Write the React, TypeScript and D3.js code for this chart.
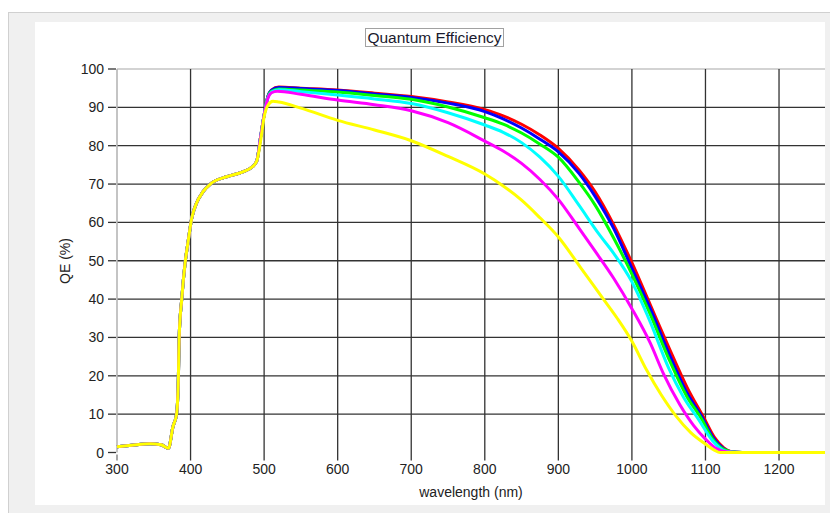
import React from 'react';
import * as d3 from 'd3';

type Pt = [number, number];

// shared onset below ~490 nm (all curves overlap there)
const onset: Pt[] = [
  [300, 1.5], [320, 1.9], [345, 2.3], [360, 2], [370, 1.1], [376, 6.7], [381, 10],
  [383.5, 20], [384.5, 30], [388, 40], [392.5, 49.3], [397, 55.4], [401.5, 61],
  [408, 65], [417, 68], [428, 70.2], [449, 71.9], [471, 73.2], [484, 74.5], [490, 76],
];

const redTail: Pt[] = [
  [495, 82], [500, 88], [505, 92.8], [510, 94.5], [520, 95.3], [550, 95], [600, 94.5],
  [650, 93.7], [700, 92.8], [750, 91.4], [800, 89.4], [825, 87.8], [850, 85.6], [875, 82.8],
  [900, 79.3], [928, 73.7], [950, 68], [975, 59.5], [1000, 49.5], [1025, 38.5], [1050, 27.5],
  [1075, 17], [1098, 9], [1112, 4], [1125, 1.2], [1135, 0.2], [1150, 0], [1262.5, 0],
];
const blueTail: Pt[] = [
  [495, 82], [500, 88], [505, 92.8], [510, 94.5], [520, 95.2], [550, 94.9], [600, 94.4],
  [650, 93.5], [700, 92.6], [750, 91.1], [800, 88.9], [825, 87], [850, 84.6], [875, 81.7],
  [900, 78.4], [928, 72.8], [950, 66.8], [975, 58.5], [1000, 48], [1025, 37.5], [1050, 26],
  [1075, 15.5], [1096, 9], [1110, 4], [1125, 1], [1135, 0.2], [1150, 0], [1262.5, 0],
];
const greenTail: Pt[] = [
  [495, 82], [500, 88], [505, 92.6], [510, 94.2], [520, 94.8], [550, 94.5], [600, 94],
  [650, 93.1], [700, 92.1], [750, 90.1], [800, 87.3], [825, 85.6], [850, 83.3], [875, 80.4],
  [900, 77], [928, 70.5], [950, 64.5], [975, 56], [1000, 46.5], [1025, 36], [1050, 24.5],
  [1075, 14.5], [1094, 9], [1110, 3.5], [1125, 0.8], [1135, 0.2], [1150, 0], [1262.5, 0],
];
const cyanTail: Pt[] = [
  [495, 82], [500, 88], [505, 92.5], [510, 94], [520, 94.6], [550, 94.1], [600, 93.2],
  [650, 92.2], [700, 91], [750, 88.6], [800, 85.4], [825, 83.5], [850, 80.8], [875, 77],
  [900, 72], [928, 64.5], [955, 57], [975, 52], [1000, 44.5], [1025, 34], [1050, 22],
  [1070, 14.5], [1091, 8.5], [1110, 3], [1125, 0.5], [1132, 0.2], [1150, 0], [1262.5, 0],
];
const magentaTail: Pt[] = [
  [495, 82], [500, 88], [505, 92.3], [510, 93.8], [518, 94.2], [550, 93.4], [600, 91.9],
  [650, 90.7], [700, 89.1], [750, 86], [800, 81.2], [825, 78.6], [850, 75.4], [875, 71.2],
  [900, 66], [928, 58.5], [950, 52.5], [975, 45.5], [1000, 37.5], [1025, 28.5], [1043, 20.5],
  [1065, 12.5], [1084, 7], [1100, 3.5], [1115, 1], [1128, 0.2], [1150, 0], [1262.5, 0],
];
const yellowTail: Pt[] = [
  [495, 81], [500, 87.5], [505, 90.5], [512, 91.6], [520, 91.4], [550, 89.8], [600, 86.6],
  [650, 84.1], [700, 81.3], [750, 77.2], [800, 72.6], [825, 69.5], [850, 65.8], [875, 61.2],
  [900, 56.2], [930, 48.3], [960, 40.3], [980, 35], [1000, 29], [1020, 21.5], [1040, 15],
  [1060, 9.5], [1080, 5.2], [1100, 2.2], [1112, 0.6], [1120, 0], [1262.5, 0],
];

const seriesColors = ['#ff0000', '#0000ff', '#00ff00', '#00ffff', '#ff00ff', '#ffff00'];
const seriesTails = [redTail, blueTail, greenTail, cyanTail, magentaTail, yellowTail];

const xTicks = [300, 400, 500, 600, 700, 800, 900, 1000, 1100, 1200];
const yTicks = [0, 10, 20, 30, 40, 50, 60, 70, 80, 90, 100];

const FONT = '"Liberation Sans", Arial, sans-serif';

export default function App() {
  const width = 830;
  const height = 513;
  const plot = { left: 117, right: 825, top: 69, bottom: 452.5 };

  const x = d3.scaleLinear().domain([300, 1262.5]).range([plot.left, plot.right]);
  const y = d3.scaleLinear().domain([0, 100]).range([plot.bottom, plot.top]);

  const line = d3.line<Pt>()
    .x(d => x(d[0]))
    .y(d => y(d[1]))
    .curve(d3.curveMonotoneX);

  return (
    <div style={{ position: 'fixed', left: 0, top: 0 }}>
      <svg width={width} height={height} style={{ display: 'block', background: '#fff' }}>
        {/* window panel */}
        <rect x={8} y={12} width={width - 8} height={height - 12} fill="#f0f0f0" />
        <line x1={8} x2={width} y1={12.5} y2={12.5} stroke="#d0d0d0" />
        <line x1={8.5} x2={8.5} y1={12} y2={height} stroke="#d0d0d0" />
        <rect x={35} y={22} width={790} height={483} fill="#fff" />

        {/* title */}
        <rect x={365.5} y={28.5} width={138} height={18} fill="none" stroke="#444" strokeDasharray="1,1" />
        <text x={434.5} y={43} textAnchor="middle" fontFamily={FONT} fontSize={15.5} fill="#1a1a2e">
          Quantum Efficiency
        </text>

        {/* grid */}
        {yTicks.filter(t => t > 0).map(t => (
          <line key={'gy' + t} x1={plot.left} x2={plot.right} y1={y(t)} y2={y(t)}
            stroke={t === 100 ? '#c4c4c4' : '#333'} strokeWidth={1.3} />
        ))}
        {xTicks.filter(t => t > 300).map(t => (
          <line key={'gx' + t} x1={x(t)} x2={x(t)} y1={plot.top} y2={plot.bottom + 8}
            stroke="#333" strokeWidth={1.3} />
        ))}

        {/* axes */}
        <line x1={plot.left} x2={plot.left} y1={plot.top} y2={plot.bottom} stroke="#b0b0b0" strokeWidth={1.5} />
        <line x1={x(300)} x2={x(300)} y1={plot.bottom + 2} y2={plot.bottom + 8} stroke="#777" strokeWidth={1.3} />
        {yTicks.map(t => (
          <g key={'ty' + t}>
            <line x1={plot.left - 9} x2={plot.left - 1} y1={y(t)} y2={y(t)} stroke="#333" strokeWidth={1.3} />
            <text x={plot.left - 13} y={y(t) + 5} textAnchor="end" fontFamily={FONT} fontSize={14} fill="#222">
              {t}
            </text>
          </g>
        ))}
        {xTicks.map(t => (
          <text key={'tx' + t} x={x(t)} y={474} textAnchor="middle" fontFamily={FONT} fontSize={14} fill="#222">
            {t}
          </text>
        ))}
        <text x={471} y={497} textAnchor="middle" fontFamily={FONT} fontSize={14} fill="#222">
          wavelength (nm)
        </text>
        <text x={70} y={261} textAnchor="middle" fontFamily={FONT} fontSize={14} fill="#222"
          transform="rotate(-90 70,261)">
          QE (%)
        </text>

        {/* curves */}
        {seriesTails.map((tail, i) => (
          <path key={seriesColors[i]} d={line(onset.concat(tail)) ?? ''} fill="none"
            stroke={seriesColors[i]} strokeWidth={3} strokeLinejoin="round" />
        ))}
      </svg>
    </div>
  );
}
